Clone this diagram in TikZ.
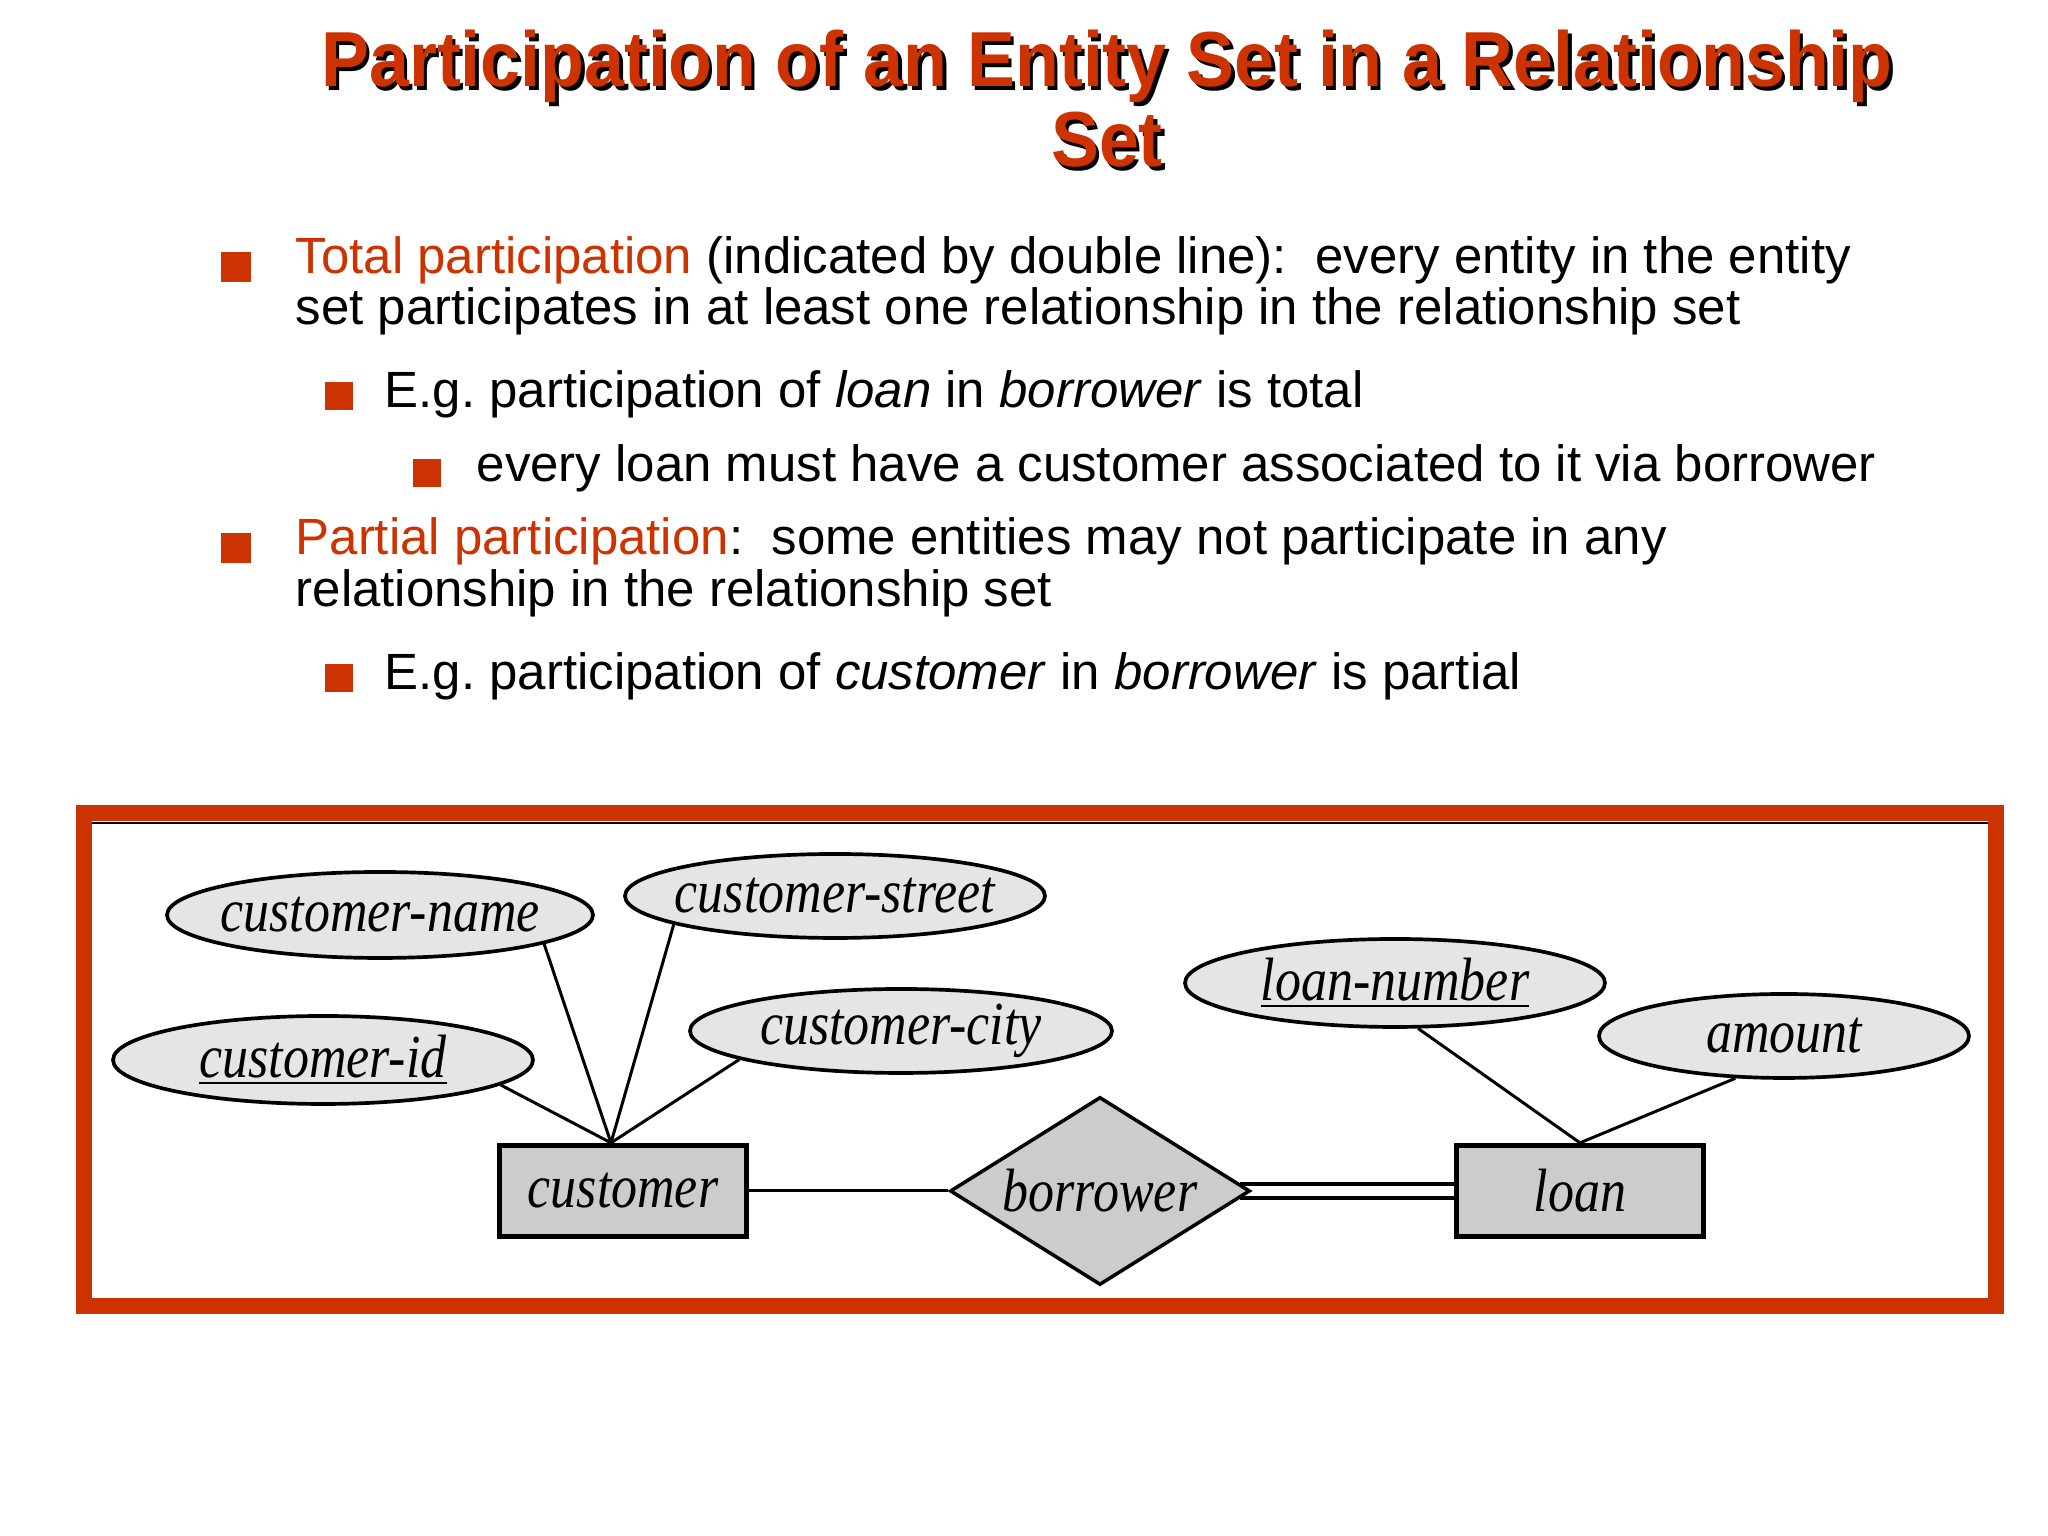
\documentclass[tikz,border=0pt]{standalone}
\usepackage{fontspec}
\setmainfont{Liberation Sans}
\newfontfamily\titlefont[FakeStretch=0.92]{Liberation Sans}
\newfontfamily\erfont[FakeStretch=0.85]{Liberation Serif}
\usepackage{tikz}
\usetikzlibrary{shapes.geometric}
\definecolor{slideRed}{RGB}{204,51,0}
\definecolor{attrGray}{RGB}{229,229,229}
\definecolor{entGray}{RGB}{204,204,204}
\newcommand{\erlabel}[1]{\makebox[0pt]{#1}}

\tikzset{
  titletext/.style={font=\titlefont\bfseries\fontsize{22.2}{26}\selectfont,anchor=base,inner sep=0pt},
  bodytext/.style={font=\fontsize{14.5}{17}\selectfont,anchor=base west,inner sep=0pt},
  bulletsq/.style={fill=slideRed,inner sep=0pt,minimum size=#1},
  erfont/.style={font=\erfont\itshape\fontsize{17.4}{20}\selectfont},
  attr/.style={ellipse,draw,line width=1.05pt,fill=attrGray,inner sep=0pt,erfont},
  entity/.style={rectangle,draw,line width=1.5pt,fill=entGray,inner sep=0pt,
                 minimum width=2.47cm,minimum height=0.91cm,erfont},
  rel/.style={diamond,draw,line width=1pt,fill=entGray,aspect=1.6,inner sep=0pt,
              minimum width=3cm,minimum height=1.88cm,erfont},
  link/.style={line width=0.85pt}
}

\begin{document}
\begin{tikzpicture}
  \fill[white] (0,0) rectangle (20.48,15.36);
  \useasboundingbox (0,0) rectangle (20.48,15.36);
  % Title
  \node[titletext,black,xshift=0.035cm,yshift=-0.035cm] (title1s) at (11.07,14.49)
    {Participation of an Entity Set in a Relationship};
  \node[titletext,slideRed] (title1) at (11.07,14.49)
    {Participation of an Entity Set in a Relationship};
  \node[titletext,black,xshift=0.035cm,yshift=-0.035cm] (title2s) at (11.07,13.69) {Set};
  \node[titletext,slideRed] (title2) at (11.07,13.69) {Set};
  % Bullets
  \node[bulletsq=0.30cm] (b1) at (2.36,12.69) {};
  \node[bodytext] (t1) at (2.95,12.62)
    {\textcolor{slideRed}{Total participation} (indicated by double line):\ \ every entity in the entity};
  \node[bodytext] (t2) at (2.95,12.11)
    {set participates in at least one relationship in the relationship set};
  \node[bulletsq=0.28cm] (b3) at (3.39,11.40) {};
  \node[bodytext] (t3) at (3.84,11.28)
    {E.g.\ participation of \textit{loan} in \textit{borrower} is total};
  \node[bulletsq=0.28cm] (b4) at (4.27,10.63) {};
  \node[bodytext] (t4) at (4.76,10.54)
    {every loan must have a customer associated to it via borrower};
  \node[bulletsq=0.30cm] (b5) at (2.36,9.88) {};
  \node[bodytext] (t5) at (2.95,9.81)
    {\textcolor{slideRed}{Partial participation}:\ \ some entities may not participate in any};
  \node[bodytext] (t6) at (2.95,9.29)
    {relationship in the relationship set};
  \node[bulletsq=0.28cm] (b7) at (3.39,8.58) {};
  \node[bodytext] (t7) at (3.84,8.46)
    {E.g.\ participation of \textit{customer} in \textit{borrower} is partial};
  % Frame
  \draw[slideRed,line width=0.16cm] (0.84,7.23) rectangle (19.96,2.30);
  \draw[line width=0.02cm] (0.92,7.13) -- (19.88,7.13);
  % Attributes
  \node[attr,minimum width=4.26cm,minimum height=0.86cm] (cname) at (3.80,6.21)
    {\erlabel{customer-name}};
  \node[attr,minimum width=4.20cm,minimum height=0.84cm] (cstreet) at (8.35,6.40)
    {\erlabel{customer-street}};
  \node[attr,minimum width=4.20cm,minimum height=0.88cm] (cid) at (3.23,4.76)
    {\erlabel{\underline{customer-id}}};
  \node[attr,minimum width=4.22cm,minimum height=0.84cm] (ccity) at (9.01,5.05)
    {\erlabel{customer-city}};
  \node[attr,minimum width=4.20cm,minimum height=0.88cm] (lnum) at (13.95,5.53)
    {\erlabel{\underline{loan-number}}};
  \node[attr,minimum width=3.70cm,minimum height=0.84cm] (amount) at (17.84,5.00)
    {\erlabel{amount}};
  % Entities and relationship
  \node[entity] (customer) at (6.23,3.45) {customer};
  \node[rel] (borrower) at (11.00,3.45) {\erlabel{borrower}};
  \node[entity] (loan) at (15.80,3.45) {loan};
  \coordinate (custtop) at ([xshift=-0.12cm]customer.north);
  % Links
  \draw[link] (cname.-10) -- (custtop);
  \draw[link] (cstreet.-170) -- (custtop);
  \draw[link] (cid.-8) -- (custtop);
  \draw[link] (ccity.-170) -- (custtop);
  \draw[link] (lnum.-63) -- (loan.north);
  \draw[link] (amount.-139) -- (loan.north);
  \draw[link] (customer) -- (borrower);
  \draw[line width=0.04cm] (borrower.3) -- (borrower.3 -| loan.west);
  \draw[line width=0.04cm] (borrower.-3) -- (borrower.-3 -| loan.west);
\end{tikzpicture}
\end{document}
